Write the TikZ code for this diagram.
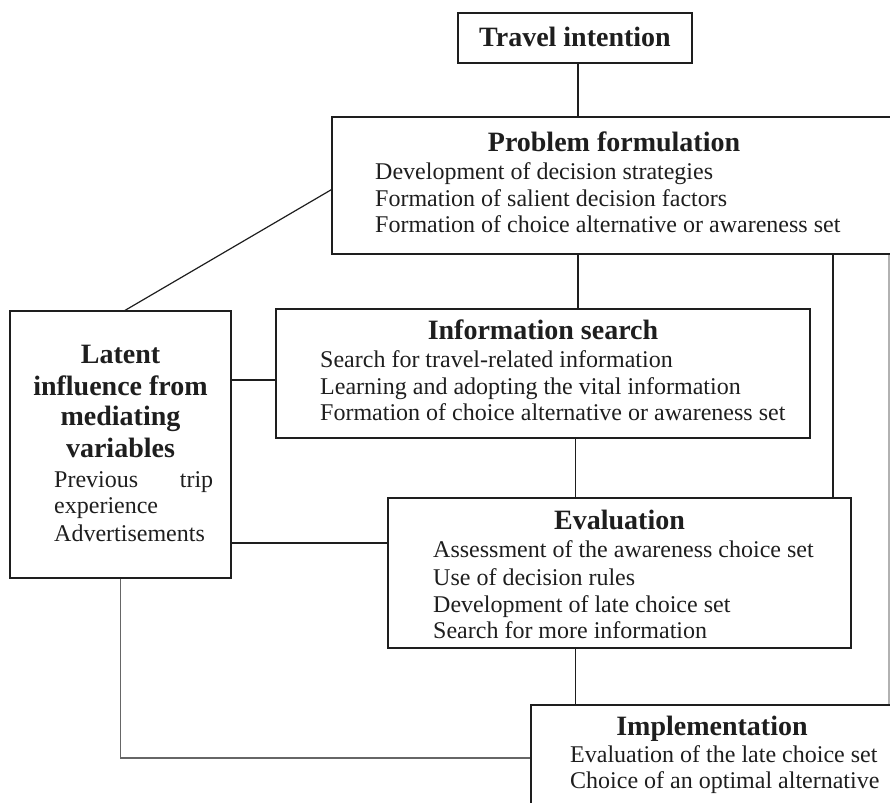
\documentclass[tikz,border=0pt]{standalone}
\usepackage{fontspec}
\setmainfont{Liberation Serif}
\usetikzlibrary{calc}
\definecolor{ink}{HTML}{1E1E1E}
\begin{document}
\begin{tikzpicture}[x=1pt,y=-1pt,
  box/.style={draw=ink, line width=1.2pt, inner sep=0pt},
  link/.style={draw=ink, line width=1.2pt},
  faint/.style={draw=black!30, line width=1.2pt},
  ttl/.style={text=ink, font=\bfseries\fontsize{28}{31}\selectfont, anchor=base, inner sep=0pt},
  txt/.style={text=ink, font=\fontsize{24}{27}\selectfont, anchor=base west, inner sep=0pt}]
\useasboundingbox (0,0) rectangle (890,802);
% boxes
\node[box, minimum width=234pt, minimum height=50pt] (ti) at (575,38) {};
\node[box, minimum width=564pt, minimum height=137pt] (pf) at (614,185.5) {};
\node[box, minimum width=534pt, minimum height=129pt] (info) at (543,373.5) {};
\node[box, minimum width=221pt, minimum height=267pt] (lat) at (120.5,444.5) {};
\node[box, minimum width=463pt, minimum height=150pt] (eval) at (619.5,573) {};
\node[box, minimum width=362pt, minimum height=106pt] (impl) at (712,758) {};
% texts
\node[ttl] (tit) at (575,47) {Travel intention};
\node[ttl] (pft) at (614,152) {Problem formulation};
\node[txt] (pf1) at (375,180) {Development of decision strategies};
\node[txt] (pf2) at (375,207) {Formation of salient decision factors};
\node[txt] (pf3) at (375,233) {Formation of choice alternative or awareness set};
\node[ttl] (ift) at (543,339) {Information search};
\node[txt] (if1) at (320,367) {Search for travel-related information};
\node[txt] (if2) at (320,394) {Learning and adopting the vital information};
\node[txt] (if3) at (320,420) {Formation of choice alternative or awareness set};
\node[ttl] (lt1) at (120.5,363) {Latent};
\node[ttl] (lt2) at (120.5,395) {influence from};
\node[ttl] (lt3) at (120.5,425) {mediating};
\node[ttl] (lt4) at (120.5,457) {variables};
\node[txt] (lb1) at (54,487) {\hbox to 159pt{Previous\hfill trip}};
\node[txt] (lb2) at (54,513) {experience};
\node[txt] (lb3) at (54,541) {Advertisements};
\node[ttl] (evt) at (619.5,529) {Evaluation};
\node[txt] (ev1) at (433,557) {Assessment of the awareness choice set};
\node[txt] (ev2) at (433,585) {Use of decision rules};
\node[txt] (ev3) at (433,612) {Development of late choice set};
\node[txt] (ev4) at (433,638) {Search for more information};
\node[ttl] (imt) at (712,735) {Implementation};
\node[txt] (im1) at (570,762) {Evaluation of the late choice set};
\node[txt] (im2) at (570,788) {Choice of an optimal alternative};
% connectors
\coordinate (tx) at (578,0);
\coordinate (sp) at (575.5,0);
\coordinate (rx) at (833,0);
\coordinate (ex) at (889,0);
\coordinate (h1) at (0,380);
\coordinate (h2) at (0,543);
\draw[link] (ti.south -| tx) -- (pf.north -| tx);
\draw[link] ($(pf.north west)!0.53!(pf.south west)$) -- ($(lat.north)+(4.5,0)$);
\draw[link] (pf.south -| tx) -- (info.north -| tx);
\draw[link] (info.south -| sp) -- (eval.north -| sp);
\draw[link] (eval.south -| sp) -- (impl.north -| sp);
\draw[link] (pf.south -| rx) -- (eval.north -| rx);
\draw[faint] (pf.south -| ex) -- (impl.north -| ex);
\draw[link] (lat.east |- h1) -- (info.west |- h1);
\draw[link] (lat.east |- h2) -- (eval.west |- h2);
\draw[link, draw=black!60, line width=1.6pt] (lat.south) |- (impl.west);
\end{tikzpicture}
\end{document}
